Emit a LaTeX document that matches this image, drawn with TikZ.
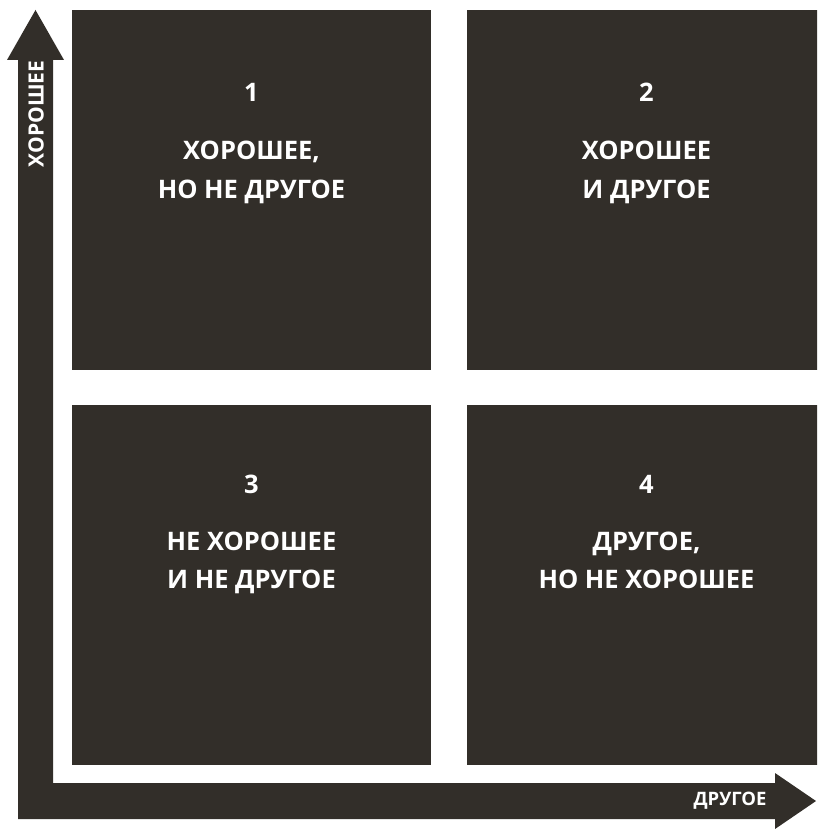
\documentclass[tikz,border=0pt]{standalone}
\usepackage{fontspec}
\setmainfont{Open Sans}
\definecolor{dark}{RGB}{50,46,41}
\begin{document}
\begin{tikzpicture}[x=1pt,y=-1pt,
  box/.style={rectangle,fill=dark,draw=none,minimum width=359pt,minimum height=360pt,anchor=north west,inner sep=0pt},
  boxtext/.style={text=white,font=\bfseries\fontsize{25.5}{30}\selectfont,anchor=base,inner sep=0pt},
  axislabel/.style={text=white,font=\bfseries\fontsize{18.5}{22}\selectfont,inner sep=0pt}]
\useasboundingbox (0,0) rectangle (817,829);
\clip (0,0) rectangle (817,829);
% boxes
\node[box] (b1) at (72,10) {};
\node[box] (b2) at (467,10) {};
\node[box] (b3) at (72,405) {};
\node[box] (b4) at (467,405) {};
% texts
\node[boxtext] (n1) at (251.5,102) {1};
\node[boxtext] (t1a) at (251.5,160) {ХОРОШЕЕ,};
\node[boxtext] (t1b) at (251.5,198) {НО НЕ ДРУГОЕ};
\node[boxtext] (n2) at (646.5,102) {2};
\node[boxtext] (t2a) at (646.5,160) {ХОРОШЕЕ};
\node[boxtext] (t2b) at (646.5,198) {И ДРУГОЕ};
\node[boxtext] (n3) at (251.5,493) {3};
\node[boxtext] (t3a) at (251.5,550) {НЕ ХОРОШЕЕ};
\node[boxtext] (t3b) at (251.5,588) {И НЕ ДРУГОЕ};
\node[boxtext] (n4) at (646.5,493) {4};
\node[boxtext] (t4a) at (646.5,550) {ДРУГОЕ,};
\node[boxtext] (t4b) at (646.5,588) {НО НЕ ХОРОШЕЕ};
% axes
\fill[dark] (18,819) -- (18,60) -- (7,60) -- (35.5,10) -- (64,60) -- (53,60) -- (53,783)
  -- (775,783) -- (775,773) -- (816,801) -- (775,829) -- (775,819) -- cycle;
\node[axislabel,rotate=90,font=\bfseries\fontsize{21}{25}\selectfont] (ly) at (36,114) {ХОРОШЕЕ};
\node[axislabel] (lx) at (730,801) {ДРУГОЕ};
\end{tikzpicture}
\end{document}
